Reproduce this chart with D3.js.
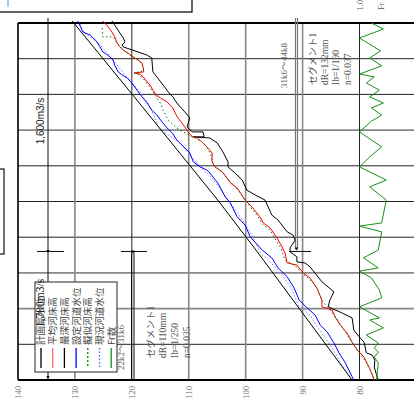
<!DOCTYPE html>
<html>
<head>
<meta charset="utf-8">
<script src="https://cdnjs.cloudflare.com/ajax/libs/d3/7.8.5/d3.min.js"></script>
<style>
  body { margin: 0; background: #fff; }
  svg { display: block; }
</style>
</head>
<body>
<div class="canvas"></div>
<script>
// ---- data: [km, elevation m] / [km, Fr] ----
const elevTicks = [140, 130, 120, 110, 100, 90, 80];
const kmTicks = [28, 29, 30, 31, 32, 33, 34, 35, 36, 37, 38];
const frTicks = [1.0];

// 計画高水位
const keikakuKousui = [[28.0,81.3],[31.6,98.0],[33.04,104.9],[35.84,119.1],[38.06,130.5]];

// 平均河床高
const heikinKashou = [[38.06,125.1],[37.94,124.4],[37.75,123.5],[37.61,123.0],[37.44,122.6],[37.33,122.1],[37.24,121.5],
  [37.16,120.7],[37.05,119.8],[36.96,118.9],[36.88,118.2],[36.74,118.0],[36.63,117.9],[36.60,119.6],[36.57,118.6],
  [36.49,118.0],[36.35,117.3],[36.26,116.8],[36.12,116.3],[35.98,115.7],[35.90,115.0],[35.79,113.8],[35.70,113.3],
  [35.62,112.8],[35.48,112.4],[35.34,111.9],[35.20,111.2],[35.09,110.7],[34.95,110.1],[34.81,109.4],[34.78,108.5],
  [34.67,107.7],[34.53,106.8],[34.36,105.9],[34.11,105.9],[33.97,105.4],[33.83,104.1],[33.66,103.3],[33.52,102.7],
  [33.38,101.5],[33.04,100.1],[32.85,98.9],[32.57,97.5],[32.40,96.9],[32.26,95.7],[31.98,94.5],[31.73,93.6],
  [31.56,93.1],[31.28,92.7],[31.22,91.0],[31.00,89.9],[30.86,88.7],[30.58,87.5],[30.24,86.6],[30.05,86.6],
  [29.96,84.8],[29.77,84.3],[29.54,83.4],[29.32,82.2],[29.06,81.3],[28.84,80.4],[28.64,79.2],[28.48,78.7],
  [28.28,78.1],[28.0,77.4]];

// 最深河床高
const saishinKashou = [[38.06,123.5],[37.94,123.0],[37.72,122.1],[37.58,121.5],[37.47,121.2],[37.38,121.7],[37.33,121.5],
  [37.10,117.3],[37.02,116.5],[36.63,116.3],[36.49,115.6],[36.26,114.5],[36.07,113.6],[35.93,112.8],[35.76,112.1],
  [35.51,110.7],[35.34,109.8],[35.09,110.3],[34.95,109.4],[34.95,107.5],[34.81,107.3],[34.81,109.2],[34.78,106.3],
  [34.64,105.0],[34.39,104.0],[34.11,103.1],[33.97,103.1],[33.80,101.9],[33.60,100.6],[33.32,99.8],[33.18,98.3],
  [33.04,96.6],[32.62,95.4],[32.48,94.3],[32.29,93.4],[32.15,92.7],[32.06,91.7],[31.92,91.3],[31.70,92.2],
  [31.59,92.2],[31.45,91.0],[31.31,91.0],[31.28,89.6],[31.17,88.7],[30.75,86.6],[30.47,84.5],[30.24,85.2],
  [30.05,85.5],[29.88,83.1],[29.74,81.3],[29.40,81.0],[29.18,79.9],[29.06,79.2],[28.76,78.8],[28.70,77.8],
  [28.56,77.3],[28.36,77.4],[28.08,76.9],[28.0,76.7]];

// 設定河道水位
const setteiSuii = [[38.06,129.5],[37.75,128.6],[37.66,127.3],[37.47,126.1],[37.33,125.6],[37.19,125.1],[37.10,124.2],
  [36.96,123.3],[36.82,123.0],[36.63,122.4],[36.54,121.7],[36.46,120.8],[36.32,120.0],[36.12,119.1],[35.93,118.2],
  [35.76,117.3],[35.56,116.5],[35.42,115.6],[35.23,114.7],[35.06,113.8],[34.92,112.9],[34.72,112.1],[34.58,111.2],
  [34.44,110.3],[34.36,109.8],[34.11,109.2],[33.97,108.0],[33.88,106.8],[33.80,106.3],[33.52,104.9],[33.13,103.6],
  [32.96,102.7],[32.57,101.5],[32.34,100.1],[32.01,99.2],[31.64,97.1],[31.42,95.4],[31.14,94.3],[30.89,92.7],
  [30.58,91.5],[30.24,90.6],[30.02,89.2],[29.82,87.8],[29.54,86.9],[29.35,85.7],[29.04,84.5],[28.76,83.6],
  [28.48,82.5],[28.0,81.0]];

// 擬似河床高
const gijiKashou = [[37.86,125.2],[37.61,125.1],[37.61,123.3],[37.44,122.6],[37.24,121.5],[37.10,120.3],[36.99,119.1],
  [36.85,118.2],[36.66,117.9],[36.60,119.6],[36.54,118.6],[36.35,117.5],[36.18,116.8],[35.98,115.9],[35.76,115.0],
  [35.56,114.5],[35.28,113.6],[35.06,112.1],[34.95,111.0],[34.81,109.2],[34.67,107.7],[34.53,106.8],[34.30,106.1],
  [34.02,105.7],[33.83,104.1],[33.55,102.7],[33.32,101.3],[33.04,100.1],[32.85,99.2],[32.57,97.8],[32.37,97.1],
  [32.20,95.7],[31.92,94.7],[31.70,93.8],[31.36,93.1],[31.17,91.1],[30.97,89.9],[30.75,88.3],[30.52,87.3],
  [30.24,86.7],[29.96,85.2],[29.74,84.1],[29.40,82.7],[29.04,81.3],[28.78,80.2],[28.59,79.2],[28.28,78.1],[28.0,77.4]];

// 現況河道水位
const genkyouSuii = [[37.97,129.1],[37.72,128.4],[37.52,126.5],[37.24,124.7],[36.91,123.0],[36.54,121.2],[36.18,119.1],
  [35.76,117.2],[35.34,115.9],[35.09,115.4],[34.92,114.2],[34.64,111.5],[34.30,109.8],[33.97,108.0],[33.66,105.9],
  [33.27,104.1],[32.90,102.4],[32.48,100.6],[32.06,98.9],[31.59,97.5],[31.31,95.7],[30.94,93.6],[30.52,91.8],
  [30.10,90.8],[29.82,88.7],[29.46,87.3],[29.18,86.0],[28.84,84.6],[28.42,83.1],[28.0,81.3]];

// Fr数
const frNum = [[38.0,0.895],[37.83,0.79],[37.58,1.0],[37.22,0.815],[37.02,0.91],[36.80,0.805],[36.57,1.0],[36.49,0.87],
  [36.32,0.94],[36.12,0.825],[35.93,0.91],[35.76,0.79],[35.62,0.895],[35.42,0.805],[35.25,0.895],[34.95,1.0],
  [34.53,0.805],[34.25,0.91],[33.97,1.0],[33.60,0.765],[33.41,0.91],[33.04,0.765],[32.40,0.805],[32.31,1.0],
  [32.15,0.805],[31.64,0.835],[31.42,0.965],[31.14,0.835],[31.05,1.0],[30.86,0.895],[30.52,0.825],[30.30,0.805],
  [30.05,1.0],[29.74,0.825],[29.68,0.91],[29.46,0.79],[29.26,0.94],[29.04,0.835],[28.90,0.87],[28.78,0.835],
  [28.64,0.87],[28.48,0.835],[28.0,0.85]];

const legendNames = ["計画高水位", "平均河床高", "最深河床高", "設定河道水位", "擬似河床高", "現況河道水位", "Fr数"];
const seg1Lines = ["セグメント1", "dR=110mm", "Ib=1/250", "n=0.035"];
const seg2Lines = ["セグメント1", "dR=132mm", "Ib=1/190", "n=0.037"];

// ---- drawing ----
const W = 414, H = 405;
const svg = d3.select(".canvas").append("svg").attr("width", W).attr("height", H);

const x = d3.scaleLinear().domain([140, 80]).range([18, 359.5]);
const y = d3.scaleLinear().domain([28, 38]).range([380, 23]);
const xFr = d3.scaleLinear().domain([1.0, 0.5]).range([359.5, 416.4]);

const grayElev = [130, 110, 100, 90];
const grayKm = [35, 31, 30];
const serif = "'Liberation Serif', 'Noto Sans CJK JP', serif";
const jp = "'Noto Sans CJK JP', sans-serif";

// boxes cut by the picture edge
svg.append("rect").attr("x", -2).attr("y", -2).attr("width", 194).attr("height", 14)
  .attr("fill", "none").attr("stroke", "#111").attr("stroke-width", 1.3);
svg.append("line").attr("x1", 8).attr("x2", 8).attr("y1", 0).attr("y2", 7)
  .attr("stroke", "#5a8de0").attr("stroke-width", 1);
svg.append("rect").attr("x", -5).attr("y", 169).attr("width", 9).attr("height", 85)
  .attr("fill", "none").attr("stroke", "#111").attr("stroke-width", 1.2);

// grid
const grid = svg.append("g");
kmTicks.slice(1, -1).forEach(k => {
  const g = grayKm.includes(k);
  grid.append("line").attr("x1", 18).attr("x2", W).attr("y1", y(k)).attr("y2", y(k))
    .attr("stroke", g ? "#888" : "#222").attr("stroke-width", g ? 1.6 : 1);
});
elevTicks.slice(1).forEach(e => {
  const g = grayElev.includes(e);
  grid.append("line").attr("x1", x(e)).attr("x2", x(e)).attr("y1", y(38)).attr("y2", y(28))
    .attr("stroke", g ? "#888" : "#222").attr("stroke-width", g ? 1.6 : 1);
});
// frame
grid.append("line").attr("x1", 18).attr("x2", W).attr("y1", y(38)).attr("y2", y(38)).attr("stroke", "#000").attr("stroke-width", 2);
grid.append("line").attr("x1", x(140)).attr("x2", x(140)).attr("y1", y(38)).attr("y2", y(28)).attr("stroke", "#000").attr("stroke-width", 1.6);

// elevation axis (bottom), labels rotated
const ax = svg.append("g").attr("transform", `translate(0,${y(28)})`)
  .call(d3.axisBottom(x).tickValues(elevTicks).tickSize(0).tickFormat(d3.format("d")));
ax.select(".domain").remove();
ax.append("line").attr("x1", 18).attr("x2", W).attr("stroke", "#000").attr("stroke-width", 2);
ax.selectAll("text")
  .attr("transform", "rotate(-90)").attr("x", -6).attr("y", 0).attr("dy", "0.35em")
  .attr("text-anchor", "end").attr("fill", "#666").style("font-size", "8.5px").style("font-family", serif);

// Fr axis (top), label partly outside the picture as in the source
const af = svg.append("g").attr("transform", "translate(0,0)")
  .call(d3.axisTop(xFr).tickValues(frTicks).tickSize(0).tickFormat(d3.format(".1f")));
af.select(".domain").remove();
af.selectAll("text")
  .attr("transform", "rotate(-90)").attr("x", -10.5).attr("y", 0).attr("dy", "0.3em")
  .attr("text-anchor", "start").attr("fill", "#555").style("font-size", "8.5px").style("font-family", serif);
svg.append("text").attr("transform", "translate(384,10) rotate(-90)")
  .attr("fill", "#555").style("font-size", "8.5px").style("font-family", serif).text("Fr");

// helpers
function rotText(tx, ty, str, size, anchor, color, family) {
  return svg.append("text").attr("transform", `translate(${tx},${ty}) rotate(-90)`)
    .attr("text-anchor", anchor || "start").attr("fill", color || "#444")
    .style("font-size", size + "px").style("font-family", family || serif).text(str);
}
function arrowDown(ax0, tipY) {
  svg.append("path").attr("d", `M${ax0 - 1.6},${tipY - 3}L${ax0 + 1.6},${tipY - 3}L${ax0},${tipY}Z`).attr("fill", "#000");
}

// discharge arrows (x=48) and segment boundaries
const yB = y(31.6);
svg.append("line").attr("x1", 48).attr("x2", 48).attr("y1", 18).attr("y2", y(28) - 1).attr("stroke", "#111").attr("stroke-width", 1);
svg.append("line").attr("x1", 37).attr("x2", 64).attr("y1", yB).attr("y2", yB).attr("stroke", "#111");
arrowDown(48, yB + 1.5);
arrowDown(48, y(28) - 1);

[131.5, 134].forEach(xx => svg.append("line").attr("x1", xx).attr("x2", xx).attr("y1", yB).attr("y2", y(28)).attr("stroke", "#111"));
svg.append("line").attr("x1", 121).attr("x2", 147).attr("y1", yB).attr("y2", yB).attr("stroke", "#111");
arrowDown(133, yB + 2);

[295.5, 297.5].forEach(xx => svg.append("line").attr("x1", xx).attr("x2", xx).attr("y1", 18).attr("y2", yB - 2).attr("stroke", "#777").attr("stroke-width", 1.2));
svg.append("line").attr("x1", 289).attr("x2", 311).attr("y1", yB).attr("y2", yB).attr("stroke", "#111");
arrowDown(296.5, yB - 1);

// series lines
const line = d3.line().x(d => x(d[1])).y(d => y(d[0]));
const lineFr = d3.line().x(d => xFr(d[1])).y(d => y(d[0]));
const plot = svg.append("g").attr("fill", "none");
plot.append("path").datum(genkyouSuii).attr("d", line).attr("stroke", "#7a7aff").attr("stroke-width", 1).attr("stroke-dasharray", "1.5,2");
plot.append("path").datum(keikakuKousui).attr("d", line).attr("stroke", "#000").attr("stroke-width", 1);
plot.append("path").datum(setteiSuii).attr("d", line).attr("stroke", "#0000ff").attr("stroke-width", 1);
plot.append("path").datum(saishinKashou).attr("d", line).attr("stroke", "#000").attr("stroke-width", 1);
plot.append("path").datum(heikinKashou).attr("d", line).attr("stroke", "#ff0000").attr("stroke-width", 1);
plot.append("path").datum(gijiKashou).attr("d", line).attr("stroke", "#008000").attr("stroke-width", 1).attr("stroke-dasharray", "1.5,2.5");
plot.append("path").datum(frNum).attr("d", lineFr).attr("stroke", "#189018").attr("stroke-width", 1);

// texts
rotText(44, 121, "1,600m3/s", 10, "middle", "#222", "'Liberation Sans', sans-serif");

// legend
const lg = svg.append("g");
lg.append("rect").attr("x", 35).attr("y", 282).attr("width", 82).attr("height", 90)
  .attr("fill", "#fff").attr("stroke", "#222").attr("stroke-width", 1);
const legColors = ["#000", "#ff6a6a", "#000", "#0000ff", "#008000", "#5a5aff", "#208a20"];
const legDash = [null, null, null, null, "2,2", "1.5,2", null];
legendNames.forEach((n, i) => {
  const cx = 41 + i * 11.7;
  lg.append("line").attr("x1", cx).attr("x2", cx).attr("y1", 348).attr("y2", 368)
    .attr("stroke", legColors[i]).attr("stroke-width", 1.3).attr("stroke-dasharray", legDash[i]);
  lg.append("text").attr("transform", `translate(${cx},345) rotate(-90)`).attr("dy", "0.36em")
    .attr("fill", "#444").style("font-size", "9.6px").style("font-family", jp).text(n);
});
rotText(44, 303, "1,700m3/s", 11.5, "middle", "#111", "'Liberation Serif', serif");

rotText(124, 370, "22k2～31k6", 9, "start", "#555");
rotText(287, 88, "31k6～44k8", 9, "start", "#555");
seg1Lines.forEach((s, i) => rotText(154 + i * 12, 358, s, 9.5, "start", "#555"));
seg2Lines.forEach((s, i) => rotText(316 + i * 11.5, 85, s, 9.5, "start", "#555"));
</script>
</body>
</html>
